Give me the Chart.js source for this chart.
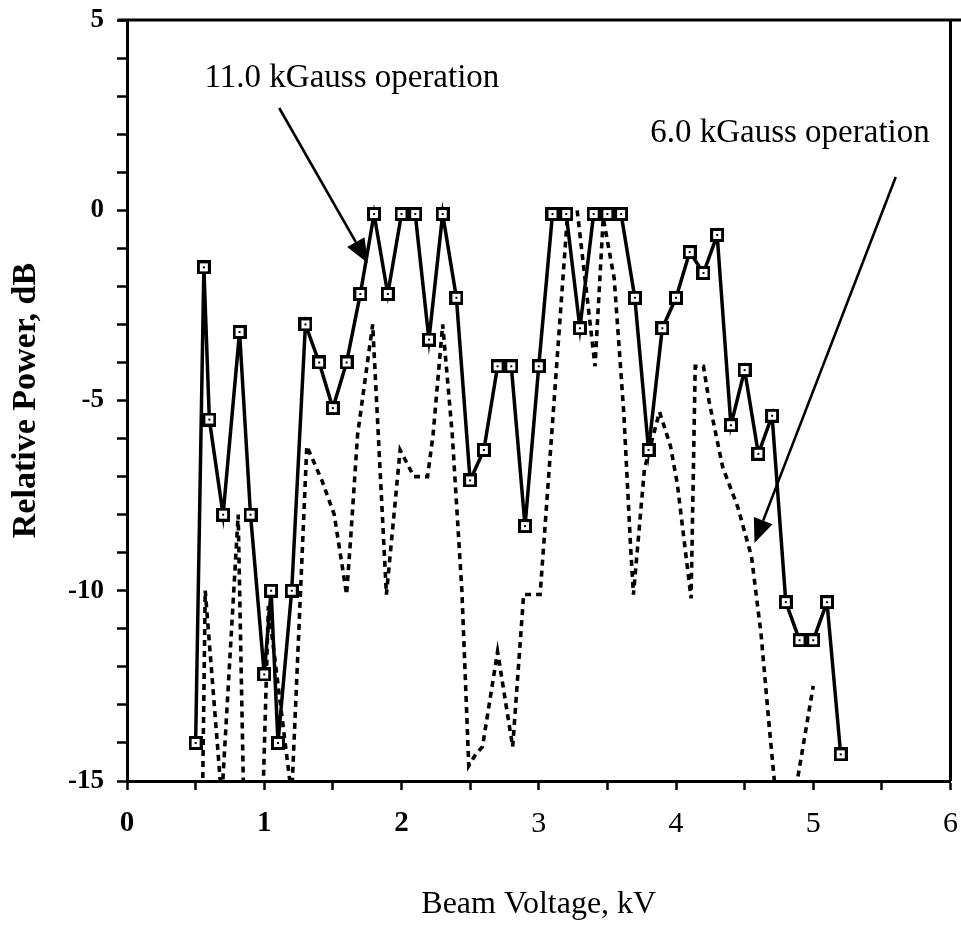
<!DOCTYPE html>
<html>
<head>
<meta charset="utf-8">
<script src="https://cdn.jsdelivr.net/npm/chart.js@4.4.1/dist/chart.umd.min.js"></script>
<style>
html,body{margin:0;padding:0;background:#fff;overflow:hidden;}
#wrap{width:961px;height:928px;}
</style>
</head>
<body>
<div id="wrap"><canvas id="c" width="961" height="928"></canvas></div>
<script>
// ---- data ----
const voltage11 = [0.5, 0.56, 0.6, 0.7, 0.82, 0.9, 1.0, 1.05, 1.1, 1.2, 1.3, 1.4, 1.5, 1.6, 1.7, 1.8, 1.9, 2.0, 2.1, 2.2, 2.3, 2.4, 2.5, 2.6, 2.7, 2.8, 2.9, 3.0, 3.1, 3.2, 3.3, 3.4, 3.5, 3.6, 3.7, 3.8, 3.9, 4.0, 4.1, 4.2, 4.3, 4.4, 4.5, 4.6, 4.7, 4.8, 4.9, 5.0, 5.1, 5.2];
const power11   = [-14.0, -1.5, -5.5, -8.0, -3.2, -8.0, -12.2, -10.0, -14.0, -10.0, -3.0, -4.0, -5.2, -4.0, -2.2, -0.1, -2.2, -0.1, -0.1, -3.4, -0.1, -2.3, -7.1, -6.3, -4.1, -4.1, -8.3, -4.1, -0.1, -0.1, -3.1, -0.1, -0.1, -0.1, -2.3, -6.3, -3.1, -2.3, -1.1, -1.65, -0.65, -5.65, -4.2, -6.4, -5.4, -10.3, -11.3, -11.3, -10.3, -14.3];

const voltage6 = [0.55, 0.57, 0.66, 0.69, 0.81, 0.85, 0.99, 1.03, 1.2, 1.31, 1.42, 1.51, 1.6, 1.63, 1.68, 1.79, 1.89, 1.99, 2.09, 2.19, 2.23, 2.3, 2.37, 2.44, 2.49, 2.54, 2.59, 2.7, 2.81, 2.89, 3.01, 3.21, 3.28, 3.41, 3.47, 3.55, 3.62, 3.67, 3.69, 3.77, 3.88, 3.96, 4.01, 4.11, 4.14, 4.2, 4.24, 4.34, 4.45, 4.55, 4.62, 4.68, 4.73, 4.86, 5.0];
const power6   = [-15.5, -10.0, -14.1, -15.5, -8.0, -15.5, -15.5, -10.4, -15.4, -6.2, -7.1, -8.0, -10.1, -8.6, -5.9, -3.0, -10.1, -6.3, -7.0, -7.0, -5.9, -3.0, -5.9, -10.0, -14.6, -14.3, -14.1, -11.6, -14.1, -10.1, -10.1, -0.1, 0.0, -4.1, -0.2, -1.8, -5.35, -8.9, -10.1, -6.8, -5.3, -6.2, -7.2, -10.2, -4.1, -4.1, -5.0, -6.75, -7.8, -9.1, -11.15, -13.6, -15.5, -15.5, -12.5];

const xTickLabels = ['0', '1', '2', '3', '4', '5', '6'];
const yTickLabels = ['-15', '-10', '-5', '0', '5'];
const seriesNames = ['11.0 kGauss operation', '6.0 kGauss operation'];
const xTitle = 'Beam Voltage, kV';
const yTitle = 'Relative Power, dB';

// ---- marker: black square with white inside and a centre dot ----
function makeMarker() {
  const c = document.createElement('canvas');
  c.width = 14; c.height = 14;
  const g = c.getContext('2d');
  g.fillStyle = '#000'; g.fillRect(0, 0, 14, 14);
  g.fillStyle = '#fff'; g.fillRect(3, 3, 8, 8);
  g.fillStyle = '#000'; g.fillRect(6, 6, 2, 2);
  return c;
}

// annotations (in data units)
const notes = [
  {text: seriesNames[0], x: 0.565, y: 3.24, fromX: 1.109, fromY: 2.687, toX: 1.754, toY: -1.386},
  {text: seriesNames[1], x: 3.812, y: 1.794, fromX: 5.601, fromY: 0.874, toX: 4.572, toY: -8.745}
];

const framePlugin = {
  id: 'frame',
  afterDraw(chart) {
    const {ctx, chartArea: a, scales} = chart;
    ctx.save();
    ctx.strokeStyle = '#000';
    ctx.lineWidth = 3;
    ctx.beginPath();
    ctx.moveTo(a.left - 9, a.top);
    ctx.lineTo(chart.width, a.top);
    ctx.moveTo(a.right, a.top);
    ctx.lineTo(a.right, a.bottom);
    ctx.stroke();
    // annotations
    ctx.fillStyle = '#000';
    ctx.font = '33px "Liberation Serif"';
    ctx.textAlign = 'left';
    ctx.textBaseline = 'alphabetic';
    notes.forEach(n => {
      ctx.fillText(n.text, scales.x.getPixelForValue(n.x), scales.y.getPixelForValue(n.y));
      const x0 = scales.x.getPixelForValue(n.fromX), y0 = scales.y.getPixelForValue(n.fromY);
      const x1 = scales.x.getPixelForValue(n.toX), y1 = scales.y.getPixelForValue(n.toY);
      const ang = Math.atan2(y1 - y0, x1 - x0);
      const L = 24, W = 10;
      const bx = x1 - L * Math.cos(ang), by = y1 - L * Math.sin(ang);
      ctx.lineWidth = 2.6;
      ctx.beginPath();
      ctx.moveTo(x0, y0);
      ctx.lineTo(bx, by);
      ctx.stroke();
      ctx.beginPath();
      ctx.moveTo(x1, y1);
      ctx.lineTo(bx + W * Math.sin(ang), by - W * Math.cos(ang));
      ctx.lineTo(bx - W * Math.sin(ang), by + W * Math.cos(ang));
      ctx.closePath();
      ctx.fill();
    });
    ctx.restore();
  }
};

const ctx = document.getElementById('c').getContext('2d');
new Chart(ctx, {
  type: 'line',
  data: {
    datasets: [
      {
        label: seriesNames[0],
        data: voltage11.map((v, i) => ({x: v, y: power11[i]})),
        borderColor: '#000',
        borderWidth: 3.5,
        pointStyle: makeMarker(),
        pointRadius: 7,
        tension: 0,
        fill: false
      },
      {
        label: seriesNames[1],
        data: voltage6.map((v, i) => ({x: v, y: power6[i]})),
        borderColor: '#000',
        borderWidth: 3.6,
        borderDash: [6, 5],
        pointRadius: 0,
        tension: 0,
        fill: false
      }
    ]
  },
  options: {
    responsive: false,
    animation: false,
    devicePixelRatio: 1,
    layout: {padding: {top: 20, right: -7, left: 0, bottom: 0}},
    plugins: {legend: {display: false}, tooltip: {enabled: false}},
    scales: {
      x: {
        type: 'linear', min: 0, max: 6,
        afterFit(s) { s.height = 147; s.paddingLeft = 0; s.paddingRight = 0; },
        ticks: {
          stepSize: 0.5, autoSkip: false, maxRotation: 0, padding: 16, color: '#000',
          font: (c) => (c.tick && c.tick.value <= 2)
            ? {family: 'Liberation Serif', size: 29, weight: 'bold'}
            : {family: 'Liberation Serif', size: 30, weight: 'normal'},
          callback: (v) => xTickLabels.includes(String(v)) ? String(v) : ''
        },
        grid: {drawOnChartArea: false, drawTicks: true, tickLength: 9, tickColor: '#000', tickWidth: 2.5},
        border: {display: true, color: '#000', width: 3},
        title: {display: true, text: xTitle, color: '#000',
          font: {family: 'Liberation Serif', size: 32}, padding: {top: 0, bottom: 4}}
      },
      y: {
        min: -15, max: 5,
        afterFit(s) { s.width = 127; s.paddingTop = 0; s.paddingBottom = 0; },
        ticks: {
          stepSize: 1, autoSkip: false, padding: 13, color: '#000',
          font: {family: 'Liberation Serif', size: 27, weight: 'bold'},
          callback: (v) => yTickLabels.includes(String(v)) ? String(v) : ''
        },
        grid: {drawOnChartArea: false, drawTicks: true, tickLength: 10, tickColor: '#000', tickWidth: 2.5},
        border: {display: true, color: '#000', width: 3},
        title: {display: true, text: yTitle, color: '#000',
          font: {family: 'Liberation Serif', size: 34, weight: 'bold'}, padding: {top: 6, bottom: 0}}
      }
    }
  },
  plugins: [framePlugin]
});
</script>
</body>
</html>
